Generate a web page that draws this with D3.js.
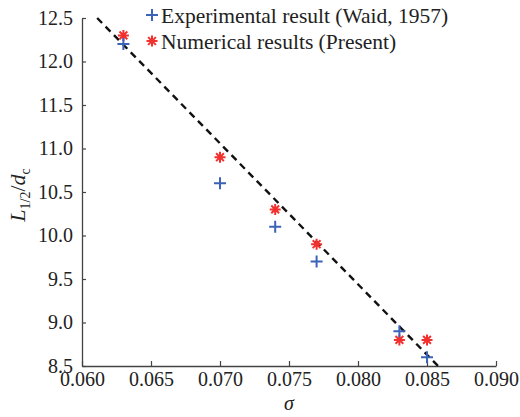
<!DOCTYPE html>
<html>
<head>
<meta charset="utf-8">
<script src="https://cdn.jsdelivr.net/npm/d3@7"></script>
<style>
  body { margin: 0; background: #fff; }
</style>
</head>
<body>
<div id="chart"></div>
<script>
// data
var sigma = [0.063, 0.070, 0.074, 0.077, 0.083, 0.085];
var expL = [12.2, 10.6, 10.1, 9.7, 8.9, 8.6];
var numSigma = [0.063, 0.070, 0.074, 0.077, 0.083, 0.085];
var numL = [12.3, 10.9, 10.3, 9.9, 8.8, 8.8];
var fitSigma = [0.0611, 0.0858];
var fitL = [12.5, 8.5];
var xTicks = [0.060, 0.065, 0.070, 0.075, 0.080, 0.085, 0.090];
var yTicks = [8.5, 9.0, 9.5, 10.0, 10.5, 11.0, 11.5, 12.0, 12.5];
var legendLabels = ['Experimental result (Waid, 1957)', 'Numerical results (Present)'];

var FONT = '"Liberation Serif", "Times New Roman", serif';

var margin = {top: 18, right: 24, bottom: 51, left: 82},
    width = 520 - margin.left - margin.right,
    height = 417 - margin.top - margin.bottom;

var x = d3.scaleLinear().domain([0.060, 0.090]).range([0, width]);
var y = d3.scaleLinear().domain([8.5, 12.5]).range([height, 0]);

var svg = d3.select('#chart').append('svg')
    .attr('width', 520).attr('height', 417)
    .append('g')
    .attr('transform', 'translate(' + margin.left + ',' + margin.top + ')');

// axes (only left and bottom, ticks pointing inward)
var xAxis = d3.axisBottom(x).tickValues(xTicks).tickFormat(d3.format('.3f'))
    .tickSizeInner(-5).tickSizeOuter(0).tickPadding(8);
var yAxis = d3.axisLeft(y).tickValues(yTicks).tickFormat(d3.format('.1f'))
    .tickSizeInner(-4).tickSizeOuter(0).tickPadding(9);

var gx = svg.append('g').attr('transform', 'translate(0,' + height + ')').call(xAxis);
var gy = svg.append('g').call(yAxis);
[gx, gy].forEach(function(g) {
    g.attr('font-family', FONT).attr('font-size', 20);
    g.select('.domain').attr('stroke', '#444').attr('stroke-width', 1.3);
    g.selectAll('.tick line').attr('stroke', '#444').attr('stroke-width', 1.2);
    g.selectAll('.tick text').attr('fill', '#222');
});
gx.selectAll('.tick text').attr('dy', '0.6em');

// fitted dashed line
var fit = fitSigma.map(function(s, i) { return {s: s, l: fitL[i]}; });
svg.append('path')
    .datum(fit)
    .attr('fill', 'none')
    .attr('stroke', '#111')
    .attr('stroke-width', 2.4)
    .attr('stroke-dasharray', '7,5')
    .attr('d', d3.line().x(function(d) { return x(d.s); }).y(function(d) { return y(d.l); }));

var blue = '#3b63b8', red = '#f2312e';

function plus(g, cx, cy) {
    g.append('path')
        .attr('d', 'M' + (cx - 6) + ',' + cy + 'H' + (cx + 6) + 'M' + cx + ',' + (cy - 6) + 'V' + (cy + 6))
        .attr('stroke', blue).attr('stroke-width', 2).attr('fill', 'none');
}
function star(g, cx, cy) {
    var r = 5.5, r2 = 3.9;
    g.append('path')
        .attr('d', 'M' + (cx - r) + ',' + cy + 'H' + (cx + r) + 'M' + cx + ',' + (cy - r) + 'V' + (cy + r) +
            'M' + (cx - r2) + ',' + (cy - r2) + 'L' + (cx + r2) + ',' + (cy + r2) +
            'M' + (cx - r2) + ',' + (cy + r2) + 'L' + (cx + r2) + ',' + (cy - r2))
        .attr('stroke', red).attr('stroke-width', 2).attr('fill', 'none');
}

var marks = svg.append('g');
numSigma.forEach(function(s, i) { star(marks, x(s), y(numL[i])); });
sigma.forEach(function(s, i) { plus(marks, x(s), y(expL[i])); });

// legend
var leg = svg.append('g').attr('transform', 'translate(70,-3)');
plus(leg, 0, 0);
star(leg, 0, 26);
leg.selectAll('text.leg').data(legendLabels).enter().append('text')
    .attr('class', 'leg')
    .attr('x', 9)
    .attr('y', function(d, i) { return i * 26; })
    .attr('dy', '0.35em')
    .attr('font-family', FONT)
    .attr('font-size', 21.5)
    .attr('fill', '#222')
    .text(function(d) { return d; });

// axis labels
svg.append('text')
    .attr('x', width / 2)
    .attr('y', height + 44)
    .attr('text-anchor', 'middle')
    .attr('font-family', FONT)
    .attr('font-size', 20)
    .attr('font-style', 'italic')
    .attr('fill', '#222')
    .text('σ');

var yl = svg.append('text')
    .attr('transform', 'translate(' + (-57) + ',' + (height / 2 + 3) + ') rotate(-90)')
    .attr('text-anchor', 'middle')
    .attr('font-family', FONT)
    .attr('font-size', 22)
    .attr('fill', '#222');
yl.append('tspan').attr('font-style', 'italic').text('L');
yl.append('tspan').attr('dy', 5).attr('font-size', 14).text('1/2');
yl.append('tspan').attr('dy', -5).text('/');
yl.append('tspan').attr('font-style', 'italic').text('d');
yl.append('tspan').attr('dy', 5).attr('font-size', 14).text('c');
</script>
</body>
</html>
